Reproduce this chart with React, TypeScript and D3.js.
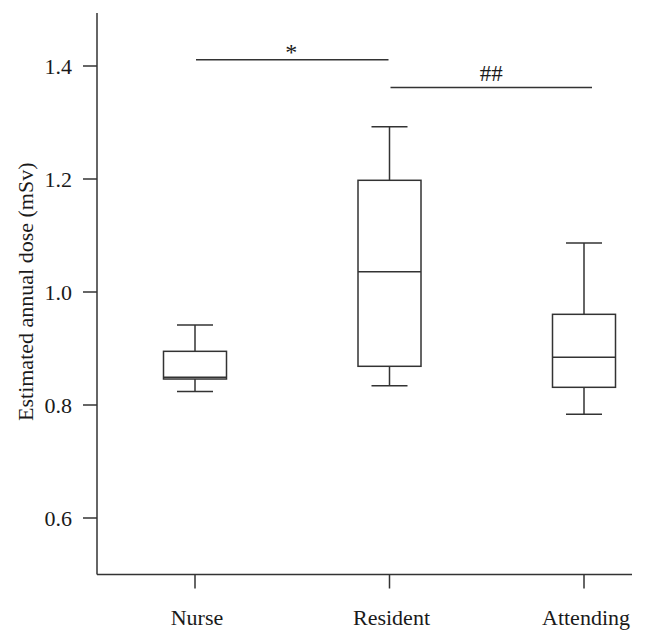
import React from "react";
import * as d3 from "d3";

const categories = ["Nurse", "Resident", "Attending"];
const whiskerLow = [0.824, 0.834, 0.7835];
const q1 = [0.846, 0.8685, 0.8313];
const median = [0.849, 1.036, 0.8844];
const q3 = [0.895, 1.1977, 0.9605];
const whiskerHigh = [0.9416, 1.2926, 1.0867];
const yTicks = [0.6, 0.8, 1.0, 1.2, 1.4];
const comparisons = [
  { from: "Nurse", to: "Resident", level: 1.411, label: "*" },
  { from: "Resident", to: "Attending", level: 1.362, label: "##" },
];

const W = 647;
const H = 636;
const FONT = "'Liberation Serif', 'Times New Roman', serif";
const INK = "#333";

export default function App() {
  const y = d3.scaleLinear().domain([0.5, 1.5]).range([574.5, 9.5]);
  const x = d3.scalePoint<string>().domain(categories).range([195, 584]);
  const axisLeft = 97;
  const axisBottom = y(0.5);
  const axisRight = 632;
  const boxW = 63;
  const capW = 36;

  return (
    <svg
      width={W}
      height={H}
      style={{ position: "absolute", left: 0, top: 0, background: "#fff" }}
      fontFamily={FONT}
    >
      {/* axes */}
      <line x1={axisLeft} x2={axisLeft} y1={13} y2={axisBottom} stroke={INK} strokeWidth={1.5} />
      <line x1={axisLeft} x2={axisRight} y1={axisBottom} y2={axisBottom} stroke={INK} strokeWidth={1.5} />
      {yTicks.map((t) => (
        <g key={t}>
          <line x1={axisLeft - 14} x2={axisLeft} y1={y(t)} y2={y(t)} stroke={INK} strokeWidth={1.5} />
          <text
            x={axisLeft - 25}
            y={y(t)}
            dy="0.35em"
            textAnchor="end"
            fontSize={22}
            fill="#1a1a1a"
          >
            {d3.format(".1f")(t)}
          </text>
        </g>
      ))}
      {categories.map((c) => (
        <g key={c}>
          <line x1={x(c)!} x2={x(c)!} y1={axisBottom} y2={axisBottom + 14} stroke={INK} strokeWidth={1.5} />
          <text x={x(c)! + 2} y={625} textAnchor="middle" fontSize={22} fill="#1a1a1a">
            {c}
          </text>
        </g>
      ))}
      <text
        transform={`translate(33, ${(13 + axisBottom) / 2 - 2}) rotate(-90)`}
        textAnchor="middle"
        fontSize={22}
        fill="#1a1a1a"
      >
        Estimated annual dose (mSv)
      </text>

      {/* boxes */}
      {categories.map((c, i) => {
        const cx = x(c)!;
        return (
          <g key={c} stroke={INK} strokeWidth={1.5} fill="none">
            <line x1={cx} x2={cx} y1={y(whiskerHigh[i])} y2={y(q3[i])} />
            <line x1={cx} x2={cx} y1={y(q1[i])} y2={y(whiskerLow[i])} />
            <line x1={cx - capW / 2} x2={cx + capW / 2} y1={y(whiskerHigh[i])} y2={y(whiskerHigh[i])} />
            <line x1={cx - capW / 2} x2={cx + capW / 2} y1={y(whiskerLow[i])} y2={y(whiskerLow[i])} />
            <rect x={cx - boxW / 2} y={y(q3[i])} width={boxW} height={y(q1[i]) - y(q3[i])} />
            <line x1={cx - boxW / 2} x2={cx + boxW / 2} y1={y(median[i])} y2={y(median[i])} />
          </g>
        );
      })}

      {/* significance */}
      {comparisons.map((cmp) => {
        const x1 = x(cmp.from)! + 1;
        const x2 = x(cmp.to)! + (cmp.to === "Attending" ? 8 : -1);
        return (
          <g key={cmp.label}>
            <line x1={x1} x2={x2} y1={y(cmp.level)} y2={y(cmp.level)} stroke={INK} strokeWidth={1.5} />
            <text
              x={(x1 + x2) / 2 - (cmp.label === "*" ? 1 : 0)}
              y={y(cmp.level) - (cmp.label === "*" ? 0 : 6)}
              textAnchor="middle"
              fontSize={cmp.label === "*" ? 24 : 23}
              fill="#1a1a1a"
            >
              {cmp.label}
            </text>
          </g>
        );
      })}
    </svg>
  );
}
